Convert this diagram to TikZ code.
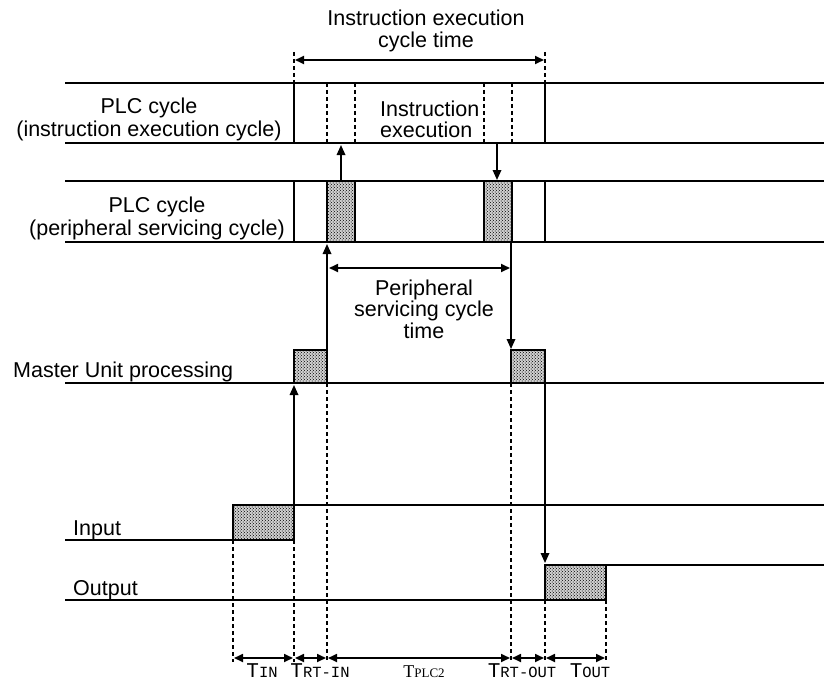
\documentclass[tikz,border=0pt]{standalone}
\usepackage{fontspec}
\setmainfont{Liberation Sans}
\newfontfamily\labmono{Liberation Mono}
\newfontfamily\labserif{Liberation Serif}
\usetikzlibrary{arrows.meta,patterns}
\newcommand{\sm}{\fontsize{15.5}{15.5}\selectfont}
\pgfdeclarepatternformonly{finedots}{\pgfqpoint{-0.5pt}{-0.5pt}}{\pgfqpoint{3.5pt}{3.5pt}}{\pgfqpoint{3pt}{3pt}}%
{%
  \pgfpathcircle{\pgfqpoint{0pt}{0pt}}{0.8pt}%
  \pgfpathcircle{\pgfqpoint{1.5pt}{1.5pt}}{0.8pt}%
  \pgfusepath{fill}%
}
\begin{document}
\begin{tikzpicture}[x=1pt,y=-1pt,
  solidline/.style={line width=1.7pt},
  dashline/.style={line width=1.4pt, dash pattern=on 4pt off 3pt},
  arr/.style={line width=1.7pt,-{Triangle[length=10pt,width=8.5pt]}},
  darr/.style={line width=1.7pt,{Triangle[length=9pt,width=8pt]}-{Triangle[length=9pt,width=8pt]}},
  shadebox/.style={line width=1.7pt, pattern=finedots, pattern color=black!85},
  lbl/.style={font=\fontsize{21.5}{22}\selectfont, inner sep=0pt, align=center},
  big/.style={font=\labmono\fontsize{21}{21}\selectfont},
]
\useasboundingbox (0,0) rectangle (824,690);

% ---------- top dimension ----------
\coordinate (tl) at (294,52);
\coordinate (tr) at (545,52);
\draw[dashline] (tl) -- (294,83);
\draw[dashline] (tr) -- (545,83);
\coordinate (tal) at (295,60);
\coordinate (tar) at (544,60);
\draw[darr] (tal) -- (tar);
\node[lbl, anchor=base] (icyc) at (426,48) {Instruction execution\\cycle time};

% ---------- instruction execution row ----------
\draw[solidline] (65,83) -- (824,83);
\draw[solidline] (65,143) -- (824,143);
\draw[solidline] (294,83) -- (294,143);
\draw[solidline] (545,83) -- (545,143);
\foreach \x in {327,355,484,512} \draw[dashline] (\x,83) -- (\x,143);
\node[lbl, anchor=base west, align=left, font=\fontsize{21.5}{20.5}\selectfont] (iexec) at (380,137) {Instruction\\execution};
\node[lbl, anchor=base, font=\fontsize{21.5}{23}\selectfont] (plc1) at (149,136) {PLC cycle\\(instruction execution cycle)};

% ---------- peripheral servicing row ----------
\draw[solidline] (65,181) -- (824,181);
\draw[solidline] (65,242) -- (824,242);
\draw[solidline] (294,181) -- (294,242);
\draw[solidline] (545,181) -- (545,242);
\draw[shadebox] (327,181) rectangle (355,242);
\draw[shadebox] (484,181) rectangle (512,242);
\node[lbl, anchor=base, font=\fontsize{21.5}{22.5}\selectfont] (plc2) at (157,235) {PLC cycle\\(peripheral servicing cycle)};

% arrows between the two PLC rows
\coordinate (ua0) at (341,181);
\coordinate (ua1) at (341,145);
\draw[arr] (ua0) -- (ua1);
\coordinate (da0) at (497,143);
\coordinate (da1) at (497,180);
\draw[arr] (da0) -- (da1);

% ---------- peripheral servicing cycle time ----------
\coordinate (pl) at (329,268);
\coordinate (pr) at (510,268);
\draw[darr] (pl) -- (pr);
\node[lbl, anchor=base, font=\fontsize{21.5}{21.5}\selectfont] (pst) at (424,338) {Peripheral\\servicing cycle\\time};

% ---------- Master Unit processing ----------
\draw[solidline] (65,383) -- (824,383);
\draw[shadebox] (294,350) rectangle (327,383);
\draw[shadebox] (511,350) rectangle (545,383);
\node[lbl, anchor=base west] (mup) at (13,377) {Master Unit processing};

\coordinate (m1) at (327,383);
\coordinate (p1) at (327,244);
\draw[arr] (m1) -- (p1);
\coordinate (p2) at (511,242);
\coordinate (m2) at (511,349);
\draw[arr] (p2) -- (m2);

% ---------- Input ----------
\draw[solidline] (65,540) -- (233,540);
\draw[shadebox] (233,505) rectangle (294,540);
\draw[solidline] (294,505) -- (824,505);
\node[lbl, anchor=base west] (inp) at (73,535) {Input};
\coordinate (i1) at (294,505);
\coordinate (m0) at (294,385);
\draw[arr] (i1) -- (m0);

% ---------- Output ----------
\draw[solidline] (65,600) -- (545,600);
\draw[shadebox] (545,565) rectangle (606,600);
\draw[solidline] (606,565) -- (824,565);
\node[lbl, anchor=base west] (outp) at (73,595) {Output};
\coordinate (m3) at (545,383);
\coordinate (o1) at (545,563);
\draw[arr] (m3) -- (o1);

% ---------- lower dashed guides ----------
\draw[dashline] (233,540) -- (233,662);
\draw[dashline] (294,540) -- (294,662);
\draw[dashline] (327,383) -- (327,662);
\draw[dashline] (511,383) -- (511,662);
\draw[dashline] (545,600) -- (545,662);
\draw[dashline] (606,600) -- (606,662);

% ---------- bottom dimensions ----------
\coordinate (d0) at (233,658);
\coordinate (d1) at (294,658);
\coordinate (d2) at (327,658);
\coordinate (d3) at (511,658);
\coordinate (d4) at (545,658);
\coordinate (d5) at (606,658);
\draw[darr] ([xshift=1pt]d0) -- ([xshift=-1pt]d1);
\draw[darr] ([xshift=1pt]d1) -- ([xshift=-1pt]d2);
\draw[darr] ([xshift=1pt]d2) -- ([xshift=-1pt]d3);
\draw[darr] ([xshift=1pt]d3) -- ([xshift=-1pt]d4);
\draw[darr] ([xshift=1pt]d4) -- ([xshift=-1pt]d5);

\node[big, anchor=base, inner sep=0pt] (tin) at (262,677) {T\sm IN};
\node[big, anchor=base, inner sep=0pt] (trtin) at (320,677) {T\sm RT-IN};
\node[anchor=base, inner sep=0pt, font=\labserif\fontsize{18}{18}\selectfont] (tplc) at (424,677) {T\fontsize{13}{13}\selectfont PLC2};
\node[big, anchor=base, inner sep=0pt] (trtout) at (522,677) {T\sm RT-OUT};
\node[big, anchor=base, inner sep=0pt] (tout) at (590,677) {T\sm OUT};
\end{tikzpicture}
\end{document}
